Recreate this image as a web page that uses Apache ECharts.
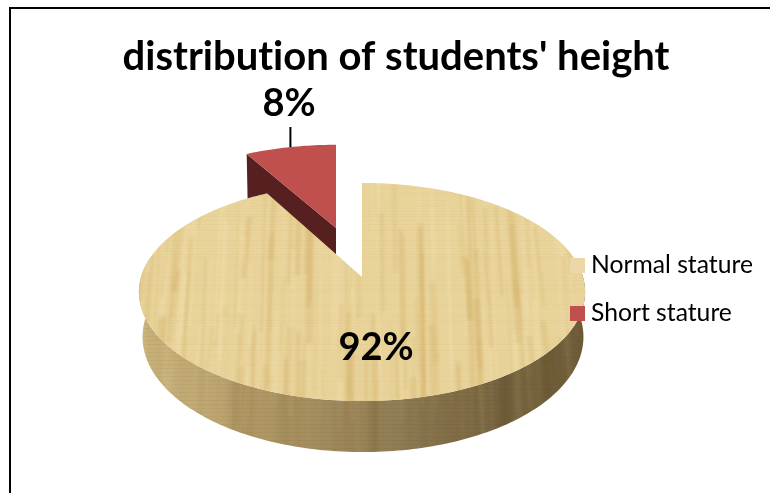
<!DOCTYPE html>
<html>
<head>
<meta charset="utf-8">
<style>html,body{margin:0;padding:0;background:#fff}#chart{width:770px;height:493px}</style>
<script src="https://cdn.jsdelivr.net/npm/echarts@6/dist/echarts.min.js"></script>
</head>
<body>
<div id="chart"></div>
<script>
// Chart content
const chartTitle = "distribution of students' height";
const categories = ['Normal stature', 'Short stature'];
const percentages = [92, 8];

// Perspective disc: a unit circle (u, v) projected on to the page
const CX = 362, CY = 277, RX = 221, RY = 107, K = 0.1376;
const DEPTH = 44;
const W = 770, H = 493;

// Repeatable noise for the wood grain
function noise(n) {
  const s = Math.sin(n * 127.1 + 11.7) * 43758.5453;
  return s - Math.floor(s);
}

function woodCanvas(paint, strength) {
  const c = document.createElement('canvas');
  c.width = W; c.height = H;
  const g = c.getContext('2d');
  paint(g);
  // soft vertical streaks
  g.filter = 'blur(1.2px)';
  for (let i = 0; i < 240; i++) {
    const x = 120 + noise(i) * 490;
    const w = 1 + noise(i + 300) * 6;
    const dark = noise(i + 600) > 0.5;
    const a = (0.07 + noise(i + 900) * 0.17) * strength;
    g.fillStyle = dark ? 'rgba(196,150,62,' + a + ')' : 'rgba(255,240,196,' + a + ')';
    const y0 = 140 + noise(i + 1200) * 240;
    const len = 50 + noise(i + 1500) * 170;
    const lean = (x - 362) * 0.05;
    g.beginPath();
    g.moveTo(x, y0);
    g.lineTo(x + w, y0);
    g.lineTo(x + w + lean, y0 + len);
    g.lineTo(x + lean, y0 + len);
    g.closePath();
    g.fill();
  }
  g.filter = 'none';
  // fine horizontal weave
  for (let y = 0; y < H; y += 2) {
    g.fillStyle = 'rgba(150,115,50,' + (0.01 + noise(y + 2000) * 0.04) + ')';
    g.fillRect(0, y, W, 1);
  }
  return c;
}

const topTexture = woodCanvas(g => {
  g.fillStyle = '#e9d49b';
  g.fillRect(0, 0, W, H);
}, 0.8);

const sideTexture = woodCanvas(g => {
  const grad = g.createLinearGradient(143, 0, 583, 0);
  grad.addColorStop(0, '#d0b982');
  grad.addColorStop(0.25, '#b19a67');
  grad.addColorStop(0.55, '#938058');
  grad.addColorStop(0.8, '#776542');
  grad.addColorStop(1, '#6d5b39');
  g.fillStyle = grad;
  g.fillRect(0, 0, W, H);
  g.filter = 'blur(2px)';
  for (let i = 0; i < 45; i++) {
    g.fillStyle = 'rgba(70,50,20,' + noise(i + 50) * 0.06 + ')';
    g.fillRect(140 + noise(i + 80) * 445, 0, 2 + noise(i + 110) * 12, H);
  }
  g.filter = 'none';
  for (let y = 300; y < 460; y += 4) {
    g.fillStyle = 'rgba(70,50,20,0.05)';
    g.fillRect(0, y, W, 1);
  }
}, 0.2);

// Projects an angle (clockwise from the back of the disc) and a radius to the page
function project(angle, radius, drop) {
  const u = Math.sin(angle) * radius;
  const v = Math.cos(angle) * radius;
  const s = 1 / (1 + K * v);
  return [CX + RX * u * s, CY - RY * v * s + (drop || 0) * s];
}

function arcPoints(a0, a1, drop, map) {
  const steps = Math.max(2, Math.ceil(Math.abs(a1 - a0) / 0.02));
  const pts = [];
  for (let i = 0; i <= steps; i++) {
    const p = project(a0 + (a1 - a0) * i / steps, 1, drop);
    pts.push(map ? map(p) : p);
  }
  return pts;
}

const total = percentages.reduce((a, b) => a + b, 0);
const TAU = Math.PI * 2;

// The large slice: starts at the back of the disc and runs clockwise
function renderNormal(params, api) {
  const sweep = api.value(0) / total * TAU;
  const apex = project(0, 0);
  const top = [apex].concat(arcPoints(0, sweep, 0));
  const a0 = Math.PI * 0.44, a1 = Math.min(Math.PI * 1.56, sweep);
  const sideTop = arcPoints(a0, a1, 0);
  const sideBottom = arcPoints(a1, a0, DEPTH, p => [CX + (p[0] - CX) * 0.988 + 1, p[1]]);
  return {
    type: 'group',
    children: [
      { type: 'polygon', shape: { points: sideTop.concat(sideBottom) },
        style: { fill: { image: sideTexture, repeat: 'repeat' } } },
      { type: 'polygon', shape: { points: top },
        style: { fill: { image: topTexture, repeat: 'repeat' } } },
      { type: 'text', x: 376, y: 348,
        style: { text: api.value(0) + '%', font: 'bold 38px Lato, sans-serif', fill: '#000',
                 align: 'center', verticalAlign: 'middle' } }
    ]
  };
}

// The small slice, pulled out towards the back left of the disc
function renderShort(params, api) {
  const sweep = api.value(0) / total * TAU;
  const apex0 = project(0, 0);
  const apexX = 336, apexY = 228;
  const shift = p => [apexX + (p[0] - apex0[0]) * 0.94, apexY + (p[1] - apex0[1]) * 0.885];
  const rim = arcPoints(TAU - sweep, TAU, 0, shift);
  const apex = [apexX, apexY];
  const left = rim[0];
  const mid = rim[Math.round(rim.length * 0.48)];
  return {
    type: 'group',
    children: [
      { type: 'polygon',
        shape: { points: [left, apex, [apexX, apexY + 50], [left[0] + 1, left[1] + 50]] },
        style: { fill: '#55201f' } },
      { type: 'polygon', shape: { points: [apex].concat(rim) },
        style: { fill: '#c0504d' } },
      { type: 'line', shape: { x1: mid[0], y1: 127, x2: mid[0], y2: mid[1] },
        style: { stroke: '#000', lineWidth: 2 } },
      { type: 'text', x: 289, y: 104,
        style: { text: api.value(0) + '%', font: 'bold 38px Lato, sans-serif', fill: '#000',
                 align: 'center', verticalAlign: 'middle' } }
    ]
  };
}

const chart = echarts.init(document.getElementById('chart'), null, { renderer: 'canvas' });
// Plain glyph shaping keeps letter pairs such as "ti" as separate letters
const baseLayer = chart.getZr().painter.getLayer(0);
if (baseLayer && baseLayer.ctx) baseLayer.ctx.textRendering = 'optimizeSpeed';

chart.setOption({
  animation: false,
  backgroundColor: '#fff',
  title: {
    text: chartTitle,
    left: 391, top: 32, textAlign: 'center',
    textStyle: { fontFamily: 'Lato, sans-serif', fontWeight: 'bold', fontSize: 40, color: '#000' }
  },
  legend: {
    data: categories,
    orient: 'vertical',
    left: 570, top: 253, padding: 0,
    itemWidth: 15, itemHeight: 15, itemGap: 23,
    icon: 'rect',
    textStyle: { fontFamily: 'Lato, sans-serif', fontSize: 24.7, color: '#000', padding: [0, 0, 0, 1] }
  },
  graphic: [
    { type: 'line', shape: { x1: 10, y1: 8, x2: 770, y2: 8 }, style: { stroke: '#000', lineWidth: 2 }, z: -1 },
    { type: 'line', shape: { x1: 10, y1: 7, x2: 10, y2: 493 }, style: { stroke: '#000', lineWidth: 2 }, z: -1 }
  ],
  series: [
    { name: categories[1], type: 'custom', coordinateSystem: 'none', silent: true, z: 2,
      itemStyle: { color: '#c0504d' },
      renderItem: renderShort, data: [[percentages[1]]] },
    { name: categories[0], type: 'custom', coordinateSystem: 'none', silent: true, z: 3,
      itemStyle: { color: '#ecd8a6' },
      renderItem: renderNormal, data: [[percentages[0]]] }
  ]
});
</script>
</body>
</html>
